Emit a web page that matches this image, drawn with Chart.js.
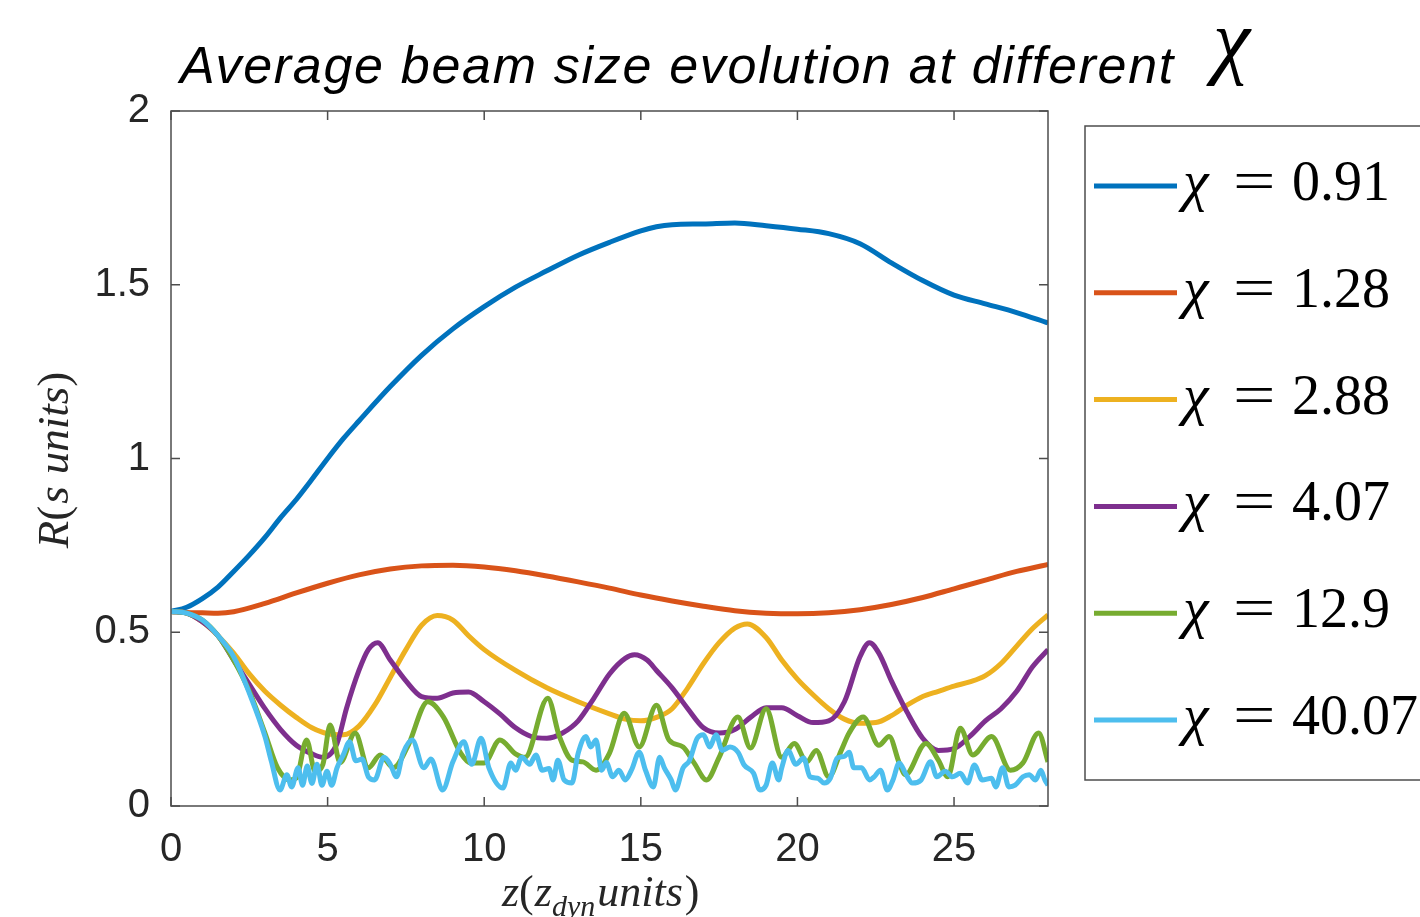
<!DOCTYPE html>
<html>
<head>
<meta charset="utf-8">
<script src="https://cdn.jsdelivr.net/npm/chart.js@4.4.0/dist/chart.umd.min.js"></script>
<style>
  html, body { margin: 0; padding: 0; background: #fff; overflow: hidden; }
</style>
</head>
<body>
<canvas id="chart" width="1420" height="917"></canvas>
<script>
// values
var zBlue = [0, 0.5, 1, 1.5, 2, 2.5, 3, 3.5, 4, 4.5, 5, 5.5, 6, 7, 8, 9, 10, 11, 12, 13, 14, 15, 15.5, 16, 17, 18, 19, 20, 21, 22, 23, 24, 25, 26, 27, 28];
var rBlue = [0.56, 0.572, 0.597, 0.63, 0.675, 0.722, 0.773, 0.83, 0.882, 0.94, 1.0, 1.057, 1.108, 1.207, 1.297, 1.373, 1.437, 1.493, 1.54, 1.585, 1.622, 1.655, 1.667, 1.673, 1.675, 1.678, 1.67, 1.66, 1.647, 1.618, 1.563, 1.512, 1.47, 1.445, 1.42, 1.39];

var zOrange = [0, 0.5, 1, 1.5, 2, 3, 4, 5, 6, 7, 8, 9, 10, 11, 12, 13, 14, 15, 16, 17, 18, 19, 20, 21, 22, 23, 24, 25, 26, 27, 28];
var rOrange = [0.56, 0.557, 0.556, 0.555, 0.559, 0.583, 0.613, 0.641, 0.665, 0.682, 0.691, 0.693, 0.688, 0.677, 0.662, 0.645, 0.627, 0.607, 0.59, 0.575, 0.562, 0.555, 0.553, 0.556, 0.565, 0.58, 0.6, 0.625, 0.65, 0.675, 0.695];

var zYellow = [0, 0.5, 1, 1.5, 2, 2.5, 3, 3.5, 4, 4.5, 5, 5.5, 6, 6.5, 7, 7.5, 8, 8.5, 9, 9.5, 10, 11, 12, 13, 14, 14.5, 15, 15.5, 16, 16.5, 17, 17.5, 18, 18.4, 19, 19.5, 20, 20.5, 21, 21.5, 22, 22.5, 23, 23.5, 24, 24.5, 25, 25.5, 26, 26.5, 27, 27.5, 28];
var rYellow = [0.56, 0.555, 0.53, 0.49, 0.44, 0.38, 0.33, 0.29, 0.255, 0.225, 0.208, 0.205, 0.23, 0.29, 0.37, 0.45, 0.52, 0.548, 0.535, 0.49, 0.45, 0.39, 0.34, 0.3, 0.265, 0.25, 0.245, 0.255, 0.28, 0.34, 0.41, 0.47, 0.512, 0.524, 0.485, 0.42, 0.365, 0.32, 0.28, 0.25, 0.238, 0.24, 0.26, 0.29, 0.315, 0.33, 0.345, 0.357, 0.375, 0.41, 0.46, 0.51, 0.55];

var zPurple = [0, 0.5, 1, 1.5, 2, 2.5, 3, 3.5, 4, 4.5, 4.85, 5.3, 5.6, 6, 6.3, 6.6, 7, 7.5, 8, 8.5, 9, 9.5, 10, 10.5, 11, 11.5, 12, 12.5, 13, 13.5, 14, 14.5, 14.8, 15.2, 15.5, 16, 16.5, 17, 17.5, 18, 18.5, 19, 19.5, 20, 20.5, 21, 21.5, 22, 22.3, 22.6, 23, 23.5, 24, 24.5, 25, 25.5, 26, 26.5, 27, 27.5, 28];
var rPurple = [0.56, 0.555, 0.53, 0.49, 0.42, 0.35, 0.28, 0.22, 0.175, 0.15, 0.14, 0.18, 0.28, 0.39, 0.45, 0.47, 0.42, 0.36, 0.315, 0.31, 0.325, 0.328, 0.3, 0.265, 0.225, 0.2, 0.195, 0.21, 0.245, 0.31, 0.38, 0.425, 0.435, 0.42, 0.39, 0.34, 0.28, 0.225, 0.21, 0.22, 0.255, 0.283, 0.283, 0.26, 0.24, 0.245, 0.3, 0.43, 0.47, 0.44, 0.36, 0.27, 0.195, 0.16, 0.165, 0.2, 0.245, 0.28, 0.33, 0.4, 0.45];

var zGreen = [0, 0.5, 1, 1.5, 2, 2.5, 3, 3.4, 3.8, 4.0, 4.33, 4.6, 4.85, 5.08, 5.4, 5.88, 6.3, 6.68, 7.1, 7.55, 8.2, 8.7, 9.25, 9.56, 10, 10.5, 11.0, 11.3, 12.03, 12.4, 12.8, 13.15, 13.57, 14, 14.47, 14.95, 15.5, 15.9, 16.35, 16.7, 17.1, 17.5, 18.1, 18.5, 19.0, 19.5, 19.9, 20.3, 20.6, 21.0, 21.4, 21.65, 22.1, 22.6, 22.93, 23.25, 23.45, 24.1, 24.5, 24.8, 25.2, 25.6, 26.2, 26.8, 27.2, 27.7, 28];
var rGreen = [0.56, 0.555, 0.535, 0.49, 0.42, 0.33, 0.21, 0.11, 0.075, 0.08, 0.19, 0.1, 0.12, 0.233, 0.125, 0.21, 0.11, 0.147, 0.11, 0.17, 0.3, 0.256, 0.152, 0.124, 0.124, 0.19, 0.15, 0.14, 0.31, 0.2, 0.132, 0.127, 0.103, 0.152, 0.267, 0.17, 0.29, 0.19, 0.17, 0.124, 0.075, 0.14, 0.256, 0.167, 0.28, 0.14, 0.18, 0.127, 0.16, 0.084, 0.16, 0.21, 0.256, 0.175, 0.2, 0.124, 0.09, 0.18, 0.132, 0.084, 0.224, 0.147, 0.2, 0.103, 0.124, 0.21, 0.127];

var zCyan = [0, 0.5, 1, 1.5, 2, 2.5, 3, 3.2, 3.48, 3.7, 3.85, 4.06, 4.2, 4.35, 4.5, 4.66, 4.82, 4.98, 5.13, 5.3, 5.5, 5.7, 5.9, 6.1, 6.3, 6.5, 6.8, 7.0, 7.2, 7.4, 7.7, 8.07, 8.3, 8.67, 9.0, 9.35, 9.6, 9.9, 10.15, 10.6, 10.85, 11.0, 11.2, 11.45, 11.65, 11.85, 12.07, 12.2, 12.35, 12.55, 12.8, 13.0, 13.25, 13.4, 13.57, 13.75, 13.9, 14.1, 14.3, 14.5, 14.7, 14.95, 15.15, 15.4, 15.6, 15.75, 15.97, 16.1, 16.35, 16.55, 16.8, 17.0, 17.2, 17.4, 17.6, 17.85, 18.1, 18.3, 18.6, 18.8, 19.0, 19.2, 19.4, 19.5, 19.7, 19.95, 20.2, 20.4, 20.65, 20.85, 21.05, 21.27, 21.5, 21.65, 21.8, 22.05, 22.3, 22.45, 22.65, 22.87, 23.05, 23.25, 23.45, 23.67, 23.95, 24.25, 24.45, 24.72, 24.95, 25.2, 25.43, 25.65, 25.9, 26.2, 26.33, 26.55, 26.75, 26.95, 27.2, 27.4, 27.6, 27.77, 27.9, 28];
var rCyan = [0.56, 0.555, 0.535, 0.49, 0.43, 0.325, 0.2, 0.13, 0.046, 0.09, 0.055, 0.11, 0.06, 0.115, 0.065, 0.12, 0.06, 0.1, 0.06, 0.11, 0.147, 0.185, 0.13, 0.135, 0.084, 0.075, 0.14, 0.12, 0.084, 0.15, 0.19, 0.11, 0.135, 0.046, 0.127, 0.185, 0.12, 0.195, 0.11, 0.052, 0.124, 0.103, 0.14, 0.12, 0.147, 0.103, 0.108, 0.075, 0.132, 0.075, 0.066, 0.152, 0.2, 0.17, 0.19, 0.103, 0.125, 0.084, 0.103, 0.075, 0.103, 0.155, 0.103, 0.055, 0.14, 0.11, 0.075, 0.046, 0.11, 0.13, 0.195, 0.205, 0.17, 0.205, 0.16, 0.17, 0.155, 0.118, 0.094, 0.046, 0.06, 0.124, 0.075, 0.11, 0.16, 0.12, 0.138, 0.084, 0.08, 0.066, 0.08, 0.138, 0.143, 0.155, 0.11, 0.11, 0.075, 0.084, 0.103, 0.046, 0.075, 0.124, 0.094, 0.066, 0.075, 0.127, 0.084, 0.1, 0.084, 0.094, 0.066, 0.118, 0.075, 0.08, 0.055, 0.11, 0.055, 0.06, 0.084, 0.09, 0.075, 0.103, 0.075, 0.06];

var chiValues = ['0.91', '1.28', '2.88', '4.07', '12.9', '40.07'];
var lineColors = ['#0072BD', '#D95319', '#EDB120', '#7E2F8E', '#77AC30', '#4DBEEE'];
var xTickValues = [0, 5, 10, 15, 20, 25];
var yTickValues = [0, 0.5, 1, 1.5, 2];

var zs = [zBlue, zOrange, zYellow, zPurple, zGreen, zCyan];
var rs = [rBlue, rOrange, rYellow, rPurple, rGreen, rCyan];

var datasets = zs.map(function (z, i) {
    return {
        label: 'χ = ' + chiValues[i],
        data: z.map(function (v, j) { return { x: v, y: rs[i][j] }; }),
        borderColor: lineColors[i],
        borderWidth: 5,
        pointRadius: 0,
        cubicInterpolationMode: 'monotone',
        fill: false,
        order: 6 - i
    };
});

var axisGray = '#262626';
var serif = '"Liberation Serif", "DejaVu Serif", serif';
var sans = '"Liberation Sans", Arial, sans-serif';

// draws a row of text pieces [font, text, dy, extraGap] starting at x
function drawPieces(ctx, pieces, x, y) {
    pieces.forEach(function (p) {
        ctx.font = p[0];
        ctx.fillText(p[1], x, y + (p[2] || 0));
        x += ctx.measureText(p[1]).width + (p[3] || 0);
    });
    return x;
}

// box, inward ticks, title, axis titles and legend
var decor = {
    id: 'decor',
    afterDraw: function (chart) {
        var ctx = chart.ctx;
        var a = chart.chartArea;
        var xs = chart.scales.x, ys = chart.scales.y;
        ctx.save();

        ctx.strokeStyle = '#4d4d4d';
        ctx.lineWidth = 1.5;
        ctx.strokeRect(a.left, a.top, a.right - a.left, a.bottom - a.top);
        ctx.beginPath();
        xTickValues.forEach(function (v) {
            var p = xs.getPixelForValue(v);
            ctx.moveTo(p, a.bottom); ctx.lineTo(p, a.bottom - 9);
            ctx.moveTo(p, a.top); ctx.lineTo(p, a.top + 9);
        });
        yTickValues.forEach(function (v) {
            var p = ys.getPixelForValue(v);
            ctx.moveTo(a.left, p); ctx.lineTo(a.left + 9, p);
            ctx.moveTo(a.right, p); ctx.lineTo(a.right - 9, p);
        });
        ctx.stroke();

        // title
        ctx.fillStyle = '#000';
        ctx.textBaseline = 'alphabetic';
        ctx.textAlign = 'left';
        ctx.font = 'italic 52px ' + sans;
        ctx.letterSpacing = '1.7px';
        ctx.fillText('Average beam size evolution at different', 180, 83);
        ctx.letterSpacing = '0px';
        ctx.font = 'italic 84px ' + serif;
        ctx.fillText('χ', 1213, 68);

        // y title R(s units)
        ctx.fillStyle = axisGray;
        ctx.save();
        ctx.translate(68, 460);
        ctx.rotate(-Math.PI / 2);
        var yParts = [
            ['italic 45px ' + serif, 'R'],
            ['45px ' + serif, '(', 0, 2],
            ['italic 45px ' + serif, 's', 0, 12],
            ['italic 45px ' + serif, 'units'],
            ['45px ' + serif, ')']
        ];
        ctx.globalAlpha = 0;
        var wy = drawPieces(ctx, yParts, 0, 0);
        ctx.globalAlpha = 1;
        drawPieces(ctx, yParts, -wy / 2, 0);
        ctx.restore();

        // x title z(z_dyn units)
        drawPieces(ctx, [
            ['italic 44px ' + serif, 'z'],
            ['44px ' + serif, '(', 0, 1],
            ['italic 44px ' + serif, 'z'],
            ['italic 30px ' + serif, 'dyn', 10, 2],
            ['italic 44px ' + serif, 'units', 0, 2],
            ['44px ' + serif, ')']
        ], 502, 906);

        // legend
        ctx.strokeStyle = '#4d4d4d';
        ctx.lineWidth = 1.5;
        ctx.strokeRect(1085, 126, 400, 654);
        chart.data.datasets.forEach(function (ds, i) {
            var yc = 186 + i * 106.8;
            ctx.strokeStyle = ds.borderColor;
            ctx.lineWidth = 5;
            ctx.beginPath();
            ctx.moveTo(1094, yc); ctx.lineTo(1177, yc);
            ctx.stroke();
            ctx.fillStyle = '#000';
            ctx.font = 'italic 58px ' + serif;
            ctx.fillText('χ', 1183, yc + 14);
            ctx.save();
            ctx.translate(1233, yc + 14);
            ctx.scale(1.3, 1);
            ctx.font = '58px ' + serif;
            ctx.fillText('=', 0, 0);
            ctx.restore();
            ctx.font = '56px ' + serif;
            ctx.fillText(chiValues[i], 1292, yc + 14);
        });
        ctx.restore();
    }
};

var chart = new Chart('chart', {
    type: 'line',
    data: { datasets: datasets },
    options: {
        responsive: false,
        animation: false,
        layout: { padding: { left: 0, top: 111, right: 372, bottom: 0 } },
        plugins: { legend: { display: false }, tooltip: { enabled: false } },
        scales: {
            x: {
                type: 'linear',
                min: 0,
                max: 28,
                afterBuildTicks: function (s) {
                    s.ticks = xTickValues.map(function (v) { return { value: v }; });
                },
                afterFit: function (s) { s.height = 111; },
                grid: { display: false, drawTicks: false },
                border: { display: false },
                ticks: {
                    color: axisGray, padding: 20, maxRotation: 0,
                    font: { family: sans, size: 40 },
                    callback: function (v) { return String(v); }
                }
            },
            y: {
                min: 0,
                max: 2,
                afterBuildTicks: function (s) {
                    s.ticks = yTickValues.map(function (v) { return { value: v }; });
                },
                afterFit: function (s) { s.width = 171; },
                grid: { display: false, drawTicks: false },
                border: { display: false },
                ticks: {
                    color: axisGray, padding: 21,
                    font: { family: sans, size: 40 },
                    callback: function (v) { return String(v); }
                }
            }
        }
    },
    plugins: [decor]
});
</script>
</body>
</html>
